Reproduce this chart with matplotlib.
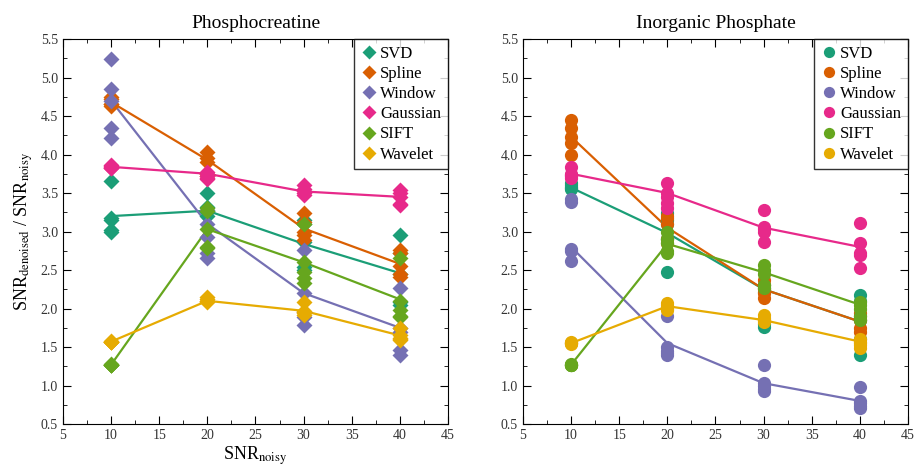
import numpy as np
import matplotlib
matplotlib.use('Agg')
import matplotlib.pyplot as plt
from matplotlib.ticker import MultipleLocator

plt.rcParams['font.family'] = ['Liberation Serif', 'DejaVu Serif']
plt.rcParams['mathtext.fontset'] = 'stix'

snr = [10, 20, 30, 40]
methods = ['SVD', 'Spline', 'Window', 'Gaussian', 'SIFT', 'Wavelet']
colors = ['#1b9e77', '#d95f02', '#7570b3', '#e7298a', '#66a61e', '#e6ab02']

# Phosphocreatine: individual points at each SNR, and the line (mean) values
pcr_points = {
    'SVD':      [[3.65, 3.17, 3.15, 3.02, 3.0], [3.5, 3.32, 3.27, 3.25, 3.2], [3.15, 3.1, 2.86, 2.54, 2.5], [2.95, 2.72, 2.45, 2.08, 2.05]],
    'Spline':   [[4.75, 4.72, 4.65, 4.63, 4.65], [4.03, 3.95, 3.9, 3.75, 3.72], [3.24, 3.12, 2.95, 2.89, 3.0], [2.76, 2.72, 2.55, 2.45, 2.41]],
    'Window':   [[5.24, 4.85, 4.35, 4.22, 4.7], [3.28, 3.1, 2.93, 2.72, 2.65], [2.76, 2.2, 1.95, 1.89, 1.79], [2.27, 1.75, 1.7, 1.46, 1.4]],
    'Gaussian': [[3.85, 3.83, 3.84, 3.86, 3.82], [3.77, 3.75, 3.72, 3.7, 3.68], [3.6, 3.55, 3.5, 3.48, 3.52], [3.54, 3.5, 3.45, 3.35, 3.36]],
    'SIFT':     [[1.27, 1.26, 1.28, 1.27, 1.27], [3.3, 3.27, 3.03, 2.8, 2.78], [3.1, 2.6, 2.47, 2.4, 2.33], [2.65, 2.1, 1.98, 1.9, 1.89]],
    'Wavelet':  [[1.57, 1.58, 1.56, 1.57, 1.57], [2.15, 2.12, 2.1, 2.08, 2.1], [2.08, 1.97, 1.94, 1.92, 1.95], [1.75, 1.65, 1.62, 1.59, 1.6]],
}
pcr_line = {
    'SVD':      [3.2, 3.27, 2.84, 2.46],
    'Spline':   [4.68, 3.93, 3.04, 2.58],
    'Window':   [4.7, 3.1, 2.2, 1.75],
    'Gaussian': [3.84, 3.75, 3.52, 3.45],
    'SIFT':     [1.27, 3.03, 2.6, 2.12],
    'Wavelet':  [1.57, 2.1, 1.97, 1.65],
}

# Inorganic phosphate
pi_points = {
    'SVD':      [[3.63, 3.58, 3.56, 3.6, 3.55], [3.24, 3.15, 3.1, 2.9, 2.48], [2.3, 2.27, 2.22, 1.8, 1.76], [2.17, 2.1, 1.85, 1.6, 1.4]],
    'Spline':   [[4.45, 4.34, 4.23, 4.15, 4.0], [3.2, 3.18, 3.1, 2.9, 2.85], [2.37, 2.3, 2.25, 2.2, 2.14], [1.94, 1.9, 1.85, 1.75, 1.7]],
    'Window':   [[3.42, 3.38, 2.77, 2.75, 2.62], [1.9, 1.5, 1.45, 1.42, 1.4], [1.27, 1.03, 1.0, 0.95, 0.93], [0.98, 0.8, 0.77, 0.73, 0.71]],
    'Gaussian': [[3.84, 3.73, 3.75, 3.7, 3.72], [3.63, 3.5, 3.45, 3.37, 3.3], [3.28, 3.06, 3.03, 3.0, 2.86], [3.11, 2.85, 2.72, 2.7, 2.53]],
    'SIFT':     [[1.27, 1.26, 1.28, 1.27, 1.27], [3.0, 2.9, 2.85, 2.75, 2.72], [2.56, 2.5, 2.45, 2.3, 2.27], [2.08, 2.05, 2.0, 1.9, 1.85]],
    'Wavelet':  [[1.55, 1.56, 1.54, 1.55, 1.55], [2.07, 2.05, 2.02, 2.0, 1.98], [1.92, 1.88, 1.85, 1.82, 1.85], [1.6, 1.57, 1.55, 1.52, 1.49]],
}
pi_line = {
    'SVD':      [3.57, 2.98, 2.25, 1.83],
    'Spline':   [4.23, 3.05, 2.25, 1.83],
    'Window':   [2.8, 1.55, 1.03, 0.8],
    'Gaussian': [3.75, 3.5, 3.05, 2.8],
    'SIFT':     [1.27, 2.84, 2.47, 2.05],
    'Wavelet':  [1.55, 2.03, 1.85, 1.57],
}

fig = plt.figure(figsize=(9.18, 4.66), dpi=100)
ax1 = fig.add_axes([0.0686, 0.0901, 0.4194, 0.8262])
ax2 = fig.add_axes([0.5697, 0.0901, 0.4194, 0.8262])

for ax, pts, lines, mk, ms, title in [(ax1, pcr_points, pcr_line, 'D', 8.5, 'Phosphocreatine'),
                                      (ax2, pi_points, pi_line, 'o', 9.5, 'Inorganic Phosphate')]:
    for m, c in zip(methods, colors):
        ax.plot(snr, lines[m], color=c, lw=1.6, zorder=2)
        for x, vals in zip(snr, pts[m]):
            ax.plot([x] * len(vals), vals, mk, color=c, ms=ms, mec='none', zorder=3)
        ax.plot([], [], mk, color=c, ms=ms * 0.85, mec='none', label=m)
    ax.set_xlim(5, 45)
    ax.set_ylim(0.5, 5.5)
    ax.xaxis.set_major_locator(MultipleLocator(5))
    ax.xaxis.set_minor_locator(MultipleLocator(2.5))
    ax.yaxis.set_major_locator(MultipleLocator(0.5))
    ax.yaxis.set_minor_locator(MultipleLocator(0.25))
    ax.tick_params(which='both', direction='in', top=True, right=True, labelsize=10, labelcolor='#333333')
    ax.tick_params(which='major', length=6)
    ax.tick_params(which='minor', length=3)
    ax.set_title(title, fontsize=14, pad=8)
    leg = ax.legend(loc='upper right', fontsize=12, frameon=True, fancybox=False,
                    handletextpad=0.2, borderaxespad=0, labelspacing=0.25, borderpad=0.4,
                    handlelength=1.0)
    leg.get_frame().set_edgecolor('black')
    leg.get_frame().set_linewidth(1.0)

ax1.set_ylabel('SNR$_{\\mathrm{denoised}}$ / SNR$_{\\mathrm{noisy}}$', fontsize=13)
ax1.set_xlabel('SNR$_{\\mathrm{noisy}}$', fontsize=13, labelpad=2)

fig.savefig('out.png', dpi=100)
